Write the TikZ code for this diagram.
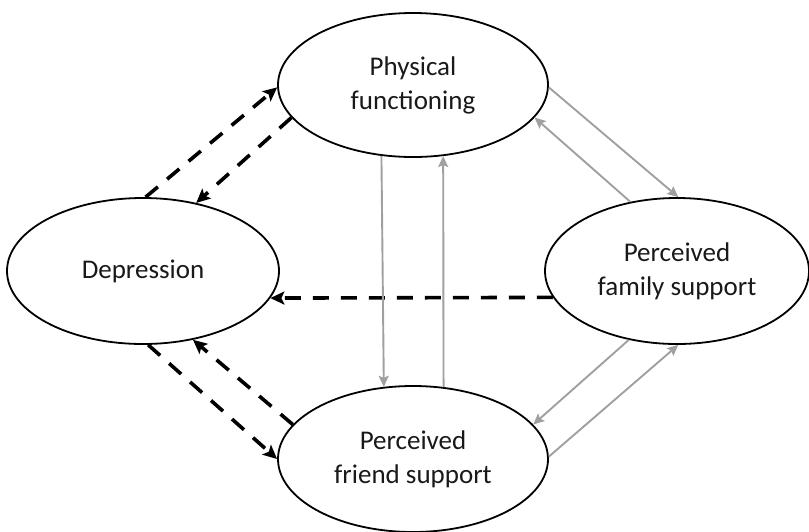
\documentclass[tikz,border=0pt]{standalone}
\usepackage{fontspec}
\setmainfont{Carlito}
\usetikzlibrary{shapes.geometric,arrows.meta}
\definecolor{arrowgray}{RGB}{160,160,160}
\definecolor{textdark}{RGB}{25,25,25}
\tikzset{
  var/.style={ellipse, draw=black, line width=1.8pt, inner sep=0pt, align=center,
    text=textdark, font=\fontsize{27}{34}\selectfont},
  dasharrow/.style={line width=3.6pt, dash pattern=on 16pt off 12pt,
    -{Stealth[length=14pt,width=13pt,inset=3pt]}},
  grayarrow/.style={draw=arrowgray, line width=1.9pt,
    -{Stealth[length=11pt,width=10pt,inset=2pt]}}
}
\begin{document}
\begin{tikzpicture}[x=1pt,y=-1pt]
\useasboundingbox (0,0) rectangle (809,531);
\node[var, minimum width=270pt, minimum height=144pt] (P) at (413,85) {Physical\\functioning};
\node[var, minimum width=272pt, minimum height=146pt] (D) at (143,271) {Depression};
\node[var, minimum width=264pt, minimum height=146pt] (F) at (677,271) {Perceived\\family support};
\node[var, minimum width=270pt, minimum height=146pt] (R) at (413,459) {Perceived\\friend support};
% dashed black
\draw[dasharrow] (D.88.5) -- (P.181);
\draw[dasharrow] (P.195.4) -- (D.52.7);
\draw[dasharrow] (F.192.42) -- (D.-12.06);
\draw[dasharrow] (D.274) -- (R.180);
\draw[dasharrow] (R.164.2) -- (D.306.9);
% gray
\draw[grayarrow] (P.246.9) -- (R.112.8);
\draw[grayarrow] (R.67.9) -- (P.-67.6);
\draw[grayarrow] (P.-1) -- (F.89);
\draw[grayarrow] (F.124.3) -- (P.-15.6);
\draw[grayarrow] (F.235.7) -- (R.16.4);
\draw[grayarrow] (R.1) -- (F.271);
\end{tikzpicture}
\end{document}
